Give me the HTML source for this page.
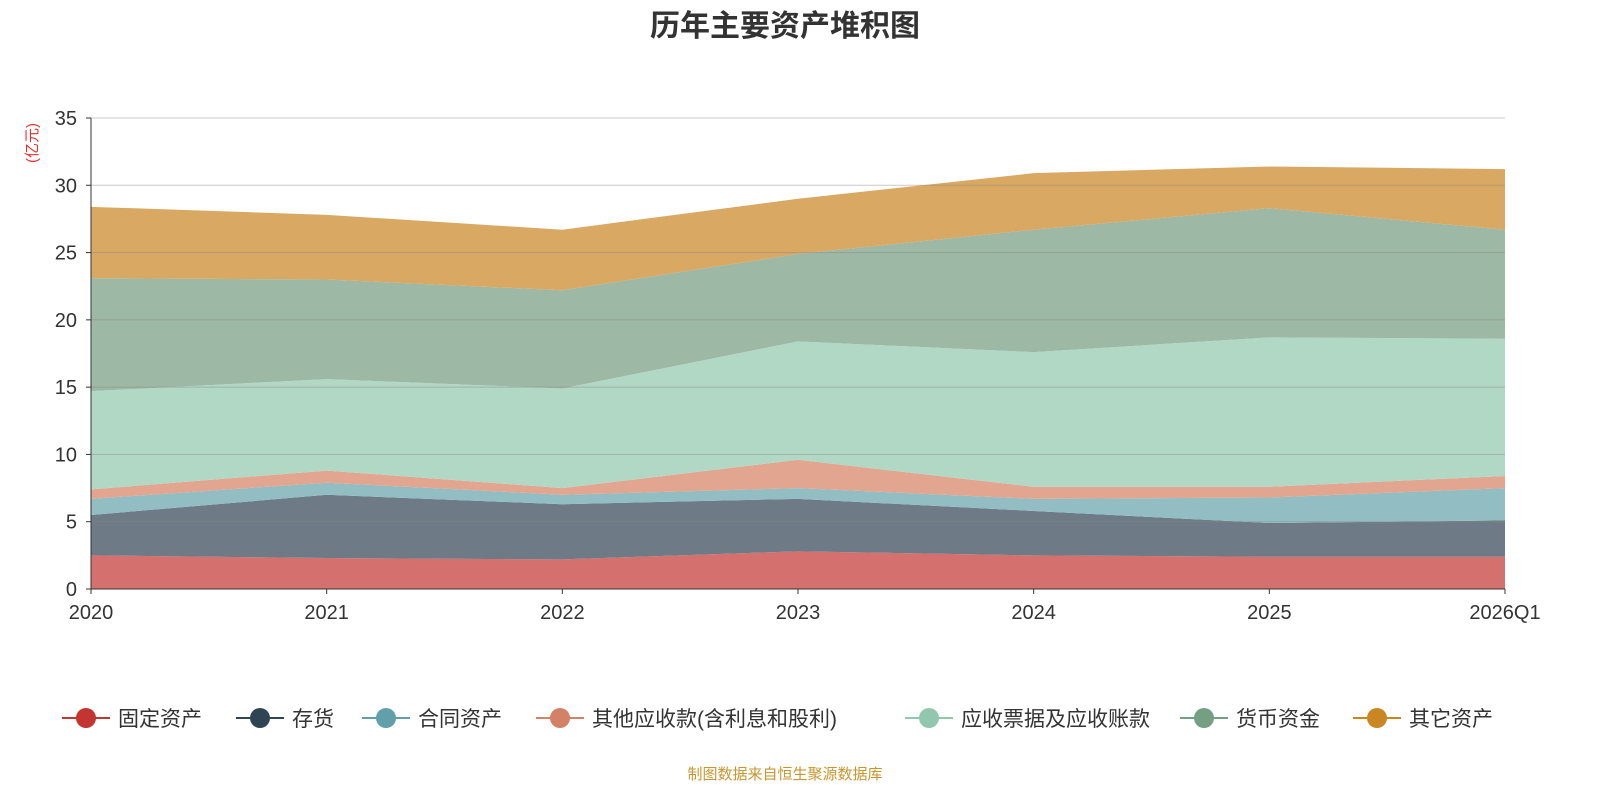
<!DOCTYPE html>
<html><head><meta charset="utf-8">
<style>
body{margin:0;background:#fff;width:1600px;height:800px;overflow:hidden;font-family:"Liberation Sans","Noto Sans CJK SC",sans-serif;}
svg text{font-family:"Liberation Sans","Noto Sans CJK SC",sans-serif;}
</style></head><body>
<svg id="chart" width="1600" height="800">
<text x="785" y="36" text-anchor="middle" font-size="30" font-weight="bold" fill="#333">历年主要资产堆积图</text>
<text transform="translate(37,143) rotate(-90)" text-anchor="middle" font-size="15" fill="#e03030">(亿元)</text>
<g id="areas"></g><g id="grid"></g><g id="axes"></g><g id="legend"></g>
<text x="785" y="779" text-anchor="middle" font-size="15" fill="#c8962e">制图数据来自恒生聚源数据库</text>
</svg>
<script>
const categories=["2020","2021","2022","2023","2024","2025","2026Q1"];
const seriesNames=["固定资产","存货","合同资产","其他应收款(含利息和股利)","应收票据及应收账款","货币资金","其它资产"];
const fixedAssets=[2.5,2.3,2.2,2.8,2.5,2.4,2.4];
const inventory=[3.0,4.7,4.1,3.9,3.3,2.5,2.7];
const contractAssets=[1.2,0.9,0.7,0.8,0.9,1.9,2.4];
const otherReceivables=[0.7,0.9,0.5,2.1,0.9,0.8,0.9];
const receivables=[7.3,6.8,7.4,8.8,10.0,11.1,10.2];
const cash=[8.4,7.4,7.3,6.5,9.1,9.6,8.1];
const otherAssets=[5.3,4.8,4.5,4.1,4.2,3.1,4.5];
const yTicks=[0,5,10,15,20,25,30,35];
const series=[fixedAssets,inventory,contractAssets,otherReceivables,receivables,cash,otherAssets];
const lineColors=["#c23531","#2f4554","#61a0a8","#d48265","#91c7ae","#749f83","#ca8622"];
const fillColors=["#d4706d","#6e7b86","#91bdc3","#e2a690","#b1d8c5","#9db8a4","#d9a862"];
const NS="http://www.w3.org/2000/svg";
const X0=91,X1=1505,Y0=589,Y1=118,YMAX=35;
const x=i=>X0+(X1-X0)*i/(categories.length-1);
const y=v=>Y0-(Y0-Y1)*v/YMAX;
function mk(t,a,p){const e=document.createElementNS(NS,t);for(const k in a)e.setAttribute(k,a[k]);p.appendChild(e);return e;}
const areas=document.getElementById('areas');
let base=categories.map(()=>0);
series.forEach((s,si)=>{
  const top=base.map((b,i)=>b+s[i]);
  let d=top.map((v,i)=>(i?'L':'M')+x(i)+','+y(v)).join(' ');
  for(let i=categories.length-1;i>=0;i--)d+=' L'+x(i)+','+y(base[i]);
  const p=mk('path',{d:d+'Z',fill:fillColors[si]},areas);
  
  
  base=top;
});
const grid=document.getElementById('grid'),axes=document.getElementById('axes');
yTicks.forEach(t=>{
  if(t>0){const l=mk('line',{x1:X0,x2:X1,y1:y(t),y2:y(t),stroke:'#888','stroke-opacity':0.45,'stroke-width':1},grid);
  
  }
  mk('line',{x1:X0-5,x2:X0,y1:y(t),y2:y(t),stroke:'#333'},axes);
  const tx=mk('text',{x:X0-14,y:y(t)+7,'text-anchor':'end','font-size':20,fill:'#333'},axes);tx.textContent=t;
  
  
});
mk('line',{x1:X0,x2:X0,y1:Y1,y2:Y0,stroke:'#333'},axes);
mk('line',{x1:X0,x2:X1,y1:Y0,y2:Y0,stroke:'#333'},axes);
categories.forEach((c,i)=>{
  mk('line',{x1:x(i),x2:x(i),y1:Y0,y2:Y0+5,stroke:'#333'},axes);
  const tx=mk('text',{x:x(i),y:Y0+30,'text-anchor':'middle','font-size':20,fill:'#333'},axes);tx.textContent=c;
  
  
});
const legend=document.getElementById('legend');
const lx=[62,236,362,536,905,1180,1353];
seriesNames.forEach((n,i)=>{
  const g=mk('g',{},legend);
  
  
  mk('line',{x1:lx[i],x2:lx[i]+48,y1:718,y2:718,stroke:lineColors[i],'stroke-width':2},g);
  mk('circle',{cx:lx[i]+24,cy:718,r:10,fill:lineColors[i]},g);
  const t=mk('text',{x:lx[i]+56,y:726,'font-size':21,fill:'#333'},g);t.textContent=n;
});
</script>
</body></html>
